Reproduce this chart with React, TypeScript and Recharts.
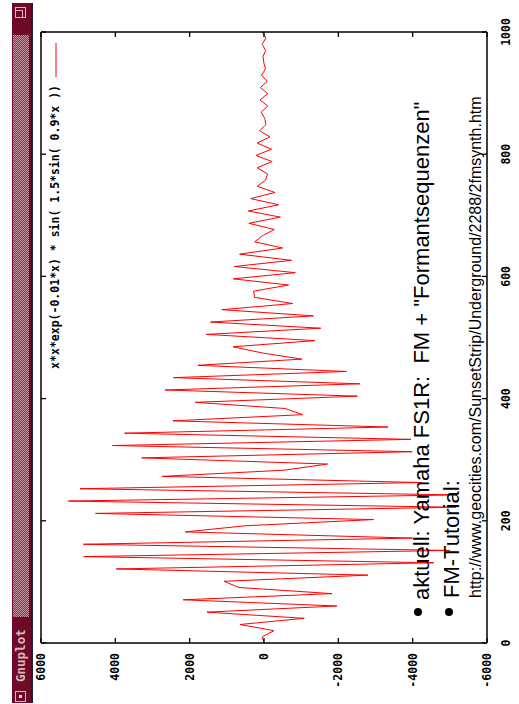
import React from 'react';
import { LineChart, Line, XAxis, YAxis } from 'recharts';

// sample positions along x (gnuplot default: 100 samples over [0:1000])
const xSamples = [
  0, 10.1, 20.2, 30.3, 40.4, 50.5, 60.6, 70.7, 80.8, 90.9,
  101.0, 111.1, 121.2, 131.3, 141.4, 151.5, 161.6, 171.7, 181.8, 191.9,
  202.0, 212.1, 222.2, 232.3, 242.4, 252.5, 262.6, 272.7, 282.8, 292.9,
  303.0, 313.1, 323.2, 333.3, 343.4, 353.5, 363.6, 373.7, 383.8, 393.9,
  404.0, 414.1, 424.2, 434.3, 444.4, 454.5, 464.6, 474.7, 484.8, 494.9,
  505.1, 515.2, 525.3, 535.4, 545.5, 555.6, 565.7, 575.8, 585.9, 596.0,
  606.1, 616.2, 626.3, 636.4, 646.5, 656.6, 666.7, 676.8, 686.9, 697.0,
  707.1, 717.2, 727.3, 737.4, 747.5, 757.6, 767.7, 777.8, 787.9, 798.0,
  808.1, 818.2, 828.3, 838.4, 848.5, 858.6, 868.7, 878.8, 888.9, 899.0,
  909.1, 919.2, 929.3, 939.4, 949.5, 959.6, 969.7, 979.8, 989.9, 1000,
];

// curve values
const ySamples = [
  0, 44, -267, 646, -1083, 1535, -1960, 2174, -1830, 676,
  1076, -2798, 3975, -4568, 4850, -4998, 4860, -3998, 2115, 488,
  -2949, 4534, -5170, 5264, -5183, 4947, -4240, 2740, -540, -1709,
  3291, -3987, 4081, -3954, 3752, -3336, 2451, -1038, -570, 1848,
  -2511, 2662, -2579, 2437, -2220, 1781, -1019, 47, 833, -1370,
  1551, -1526, 1440, -1329, 1132, -770, 253, 279, -660, 827,
  -843, 799, -742, 657, -500, 252, 38, -277, 407, -440,
  423, -394, 357, -293, 184, -41, -96, 185, -218, 216,
  -202, 185, -160, 115, -50, -21, 76, -102, 106, -100,
  93, -83, 65, -38, 3, 27, -45, 50, -49, 45,
];

const xTicks = [0, 200, 400, 600, 800, 1000];
const yTicks = [-6000, -4000, -2000, 0, 2000, 4000, 6000];

const legendLabel = 'x*x*exp(-0.01*x) * sin( 1.5*sin( 0.9*x ))';
const noteLines = [
  'aktuell: Yamaha FS1R:  FM + "Formantsequenzen"',
  'FM-Tutorial:',
  'http://www.geocities.com/SunsetStrip/Underground/2288/2fmsynth.htm',
];

const data = xSamples.map((x, i) => ({ x, y: ySamples[i] }));

const mono = '"DejaVu Sans Mono", monospace';
const sans = '"Liberation Sans", Arial, sans-serif';

const BottomTick = (props: any) => {
  const { x, y, payload } = props;
  return (
    <g>
      <line x1={x} y1={y} x2={x} y2={y - 5} stroke="#000" strokeWidth={1.3} />
      <text x={x} y={y + 23} textAnchor="middle" fontFamily={mono} fontWeight="bold" fontSize={11.5} fill="#000">
        {payload.value}
      </text>
    </g>
  );
};

const LeftTick = (props: any) => {
  const { x, y, payload } = props;
  return (
    <g>
      <line x1={x} y1={y} x2={x + 5} y2={y} stroke="#000" strokeWidth={1.3} />
      <text x={x - 10} y={y + 4} textAnchor="end" fontFamily={mono} fontWeight="bold" fontSize={11.5} fill="#000">
        {payload.value}
      </text>
    </g>
  );
};

const TopTick = (props: any) => (
  <line x1={props.x} y1={props.y} x2={props.x} y2={props.y + 5} stroke="#000" strokeWidth={1.3} />
);

const RightTick = (props: any) => (
  <line x1={props.x} y1={props.y} x2={props.x - 5} y2={props.y} stroke="#000" strokeWidth={1.3} />
);

const TitleBar = () => (
  <div style={{ position: 'absolute', left: 1, top: 12, width: 700, height: 19, background: '#6e0a28' }}>
    <div style={{ position: 'absolute', left: 1, top: 3, width: 11, height: 11, border: '1px solid #d9b3bd', boxSizing: 'border-box' }}>
      <div style={{ position: 'absolute', left: 3, top: 3, width: 3, height: 3, background: '#e8d0d6' }} />
    </div>
    <div style={{ position: 'absolute', left: 21, top: 1, fontFamily: mono, fontWeight: 'bold', fontSize: 12.5, color: '#d8b6c0', lineHeight: '16px' }}>
      Gnuplot
    </div>
    <div
      style={{
        position: 'absolute', left: 86, top: 1, width: 582, height: 16,
        background: 'repeating-conic-gradient(#c79aa5 0% 25%, #8a2a44 0% 50%) 0 0 / 2px 2px',
      }}
    />
    <div style={{ position: 'absolute', left: 685, top: 3, width: 11, height: 11, border: '1px solid #d9b3bd', boxSizing: 'border-box' }}>
      <div style={{ position: 'absolute', left: 0, top: 0, width: 6, height: 6, borderRight: '1px solid #d9b3bd', borderBottom: '1px solid #d9b3bd' }} />
    </div>
  </div>
);

export default function App() {
  return (
    <div style={{ position: 'absolute', left: 0, top: 0, width: 519, height: 704, background: '#fff', overflow: 'hidden' }}>
      <div
        style={{
          position: 'absolute', left: 0, top: 0, width: 704, height: 519,
          transformOrigin: '0 0', transform: 'translate(0px, 704px) rotate(-90deg)',
          background: '#fff',
        }}
      >
        <TitleBar />
        <div style={{ position: 'absolute', left: 1, top: 31, width: 700, height: 2, background: '#14203c' }} />
        <div style={{ position: 'absolute', left: 0, top: 0 }}>
          <LineChart width={704} height={519} data={data} margin={{ top: 40, right: 31, bottom: 0, left: 0 }}>
            <XAxis
              dataKey="x" type="number" domain={[0, 1000]} ticks={xTicks} interval={0}
              height={32} tickSize={0} tickMargin={0} allowDataOverflow
              axisLine={{ stroke: '#000', strokeWidth: 1.5 }} tickLine={false} tick={(p: any) => <BottomTick {...p} />}
            />
            <XAxis
              xAxisId="top" orientation="top" dataKey="x" type="number" domain={[0, 1000]} ticks={xTicks} interval={0}
              height={1} tickSize={0} tickMargin={0} allowDataOverflow
              axisLine={{ stroke: '#000', strokeWidth: 1.5 }} tickLine={false} tick={(p: any) => <TopTick {...p} />}
            />
            <YAxis
              type="number" domain={[-6000, 6000]} ticks={yTicks} interval={0}
              width={61} tickSize={0} tickMargin={0} allowDataOverflow
              axisLine={{ stroke: '#000', strokeWidth: 1.5 }} tickLine={false} tick={(p: any) => <LeftTick {...p} />}
            />
            <YAxis
              yAxisId="right" orientation="right" type="number" domain={[-6000, 6000]} ticks={yTicks} interval={0}
              width={1} tickSize={0} tickMargin={0} allowDataOverflow
              axisLine={{ stroke: '#000', strokeWidth: 1.5 }} tickLine={false} tick={(p: any) => <RightTick {...p} />}
            />
            {/* invisible copy so the mirrored border axes get drawn */}
            <Line
              xAxisId="top" yAxisId="right" type="linear" dataKey="y" stroke="none"
              dot={false} activeDot={false} isAnimationActive={false} legendType="none"
            />
            <Line
              type="linear" dataKey="y" stroke="#ff0000" strokeWidth={1}
              dot={false} activeDot={false} isAnimationActive={false}
            />
          </LineChart>
        </div>
        <svg width={704} height={519} style={{ position: 'absolute', left: 0, top: 0, pointerEvents: 'none' }}>
          <text x={619} y={59} textAnchor="end" fontFamily={mono} fontWeight="bold" fontSize={11.5} fill="#000">
            {legendLabel}
          </text>
          <line x1={627} y1={56} x2={661} y2={56} stroke="#ff0000" strokeWidth={1} />
          <circle cx={92} cy={418} r={4} fill="#000" />
          <circle cx={92} cy={449} r={4} fill="#000" />
          <text x={104} y={429} fontFamily={sans} fontSize={22} fill="#000" style={{ whiteSpace: 'pre' }}>{noteLines[0]}</text>
          <text x={106} y={459} fontFamily={sans} fontSize={22} fill="#000">{noteLines[1]}</text>
          <text x={106} y={481} fontFamily={sans} fontSize={16} fill="#000">{noteLines[2]}</text>
        </svg>
      </div>
    </div>
  );
}
